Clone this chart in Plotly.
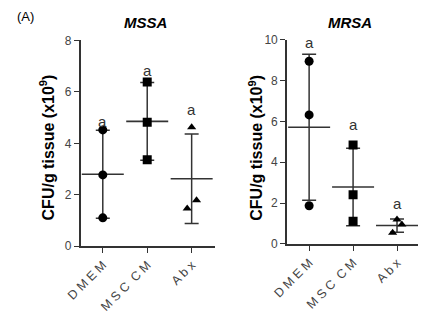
import numpy as np
import plotly.graph_objects as go

categories = ["DMEM", "MSC CM", "Abx"]
tick_text = ["D M E M", "M S C  C M", "A b x"]

# MSSA values (x10^9 CFU/g tissue)
mssa_dmem = [4.52, 2.77, 1.10]
mssa_msc = [6.38, 4.82, 3.36]
mssa_abx = [4.62, 1.78, 1.46]

# MRSA values (x10^9 CFU/g tissue)
mrsa_dmem = [8.95, 6.32, 1.87]
mrsa_msc = [4.85, 2.41, 1.11]
mrsa_abx = [1.20, 0.95, 0.55]

sig_letters = ["a", "a", "a"]
mssa_letter_y = [4.86, 6.82, 5.33]
mrsa_letter_y = [9.88, 5.83, 2.0]

symbols = ["circle", "square", "triangle-up"]
jitter = [[0, 0, 0], [0, 0, 0], [0, 0.11, -0.1]]

AX = "#333333"
TK = "#444444"

fig = go.Figure()

panels = [
    ("x", "y", [mssa_dmem, mssa_msc, mssa_abx], mssa_letter_y),
    ("x2", "y2", [mrsa_dmem, mrsa_msc, mrsa_abx], mrsa_letter_y),
]

for xa, ya, groups, letter_y in panels:
    for i, vals in enumerate(groups):
        v = np.array(vals)
        m = v.mean()
        sd = v.std(ddof=1)
        # error bar + mean line
        fig.add_trace(go.Scatter(
            x=[i], y=[m], xaxis=xa, yaxis=ya, mode="markers",
            marker=dict(symbol="line-ew", size=30, color=AX,
                        line=dict(color=AX, width=1.6)),
            error_y=dict(type="data", array=[sd], visible=True,
                         color=AX, thickness=1.5, width=7),
            showlegend=False, hoverinfo="skip"))
        # individual points
        fig.add_trace(go.Scatter(
            x=[i + j for j in jitter[i]], y=vals, xaxis=xa, yaxis=ya,
            mode="markers",
            marker=dict(symbol=symbols[i], size=9 if i < 2 else 8, color="black"),
            showlegend=False))
        fig.add_annotation(x=i, y=letter_y[i], xref=xa, yref=ya,
                           text=sig_letters[i], showarrow=False,
                           font=dict(size=15, color="#333333", family="Arial"))

axis_common = dict(showline=True, linecolor=AX, linewidth=1.5, ticks="outside",
                   ticklen=5, tickwidth=1.3, tickcolor=AX, showgrid=False,
                   zeroline=False, tickfont=dict(family="Arial", size=12, color=TK))
xfont = dict(family="Arial", size=12.5, color=TK)

fig.update_layout(
    width=421, height=322, margin=dict(l=0, r=0, t=0, b=0),
    plot_bgcolor="white", paper_bgcolor="white",
    xaxis=dict(domain=[0.1615, 0.492], range=[-0.5, 2.52],
               tickvals=[0, 1, 2], ticktext=tick_text, tickangle=-45,
               anchor="y", **{**axis_common, "tickfont": xfont}),
    yaxis=dict(domain=[0.2236, 0.8913], range=[0, 8], tickvals=[0, 2, 4, 6, 8],
               anchor="x", **axis_common),
    xaxis2=dict(domain=[0.6698, 0.9929], range=[-0.505, 2.48],
                tickvals=[0, 1, 2], ticktext=tick_text, tickangle=-45,
                anchor="y2", **{**axis_common, "tickfont": xfont}),
    yaxis2=dict(domain=[0.2307, 0.8935], range=[0, 10], tickvals=[0, 2, 4, 6, 8, 10],
                anchor="x2", **axis_common),
)

ytitle = "<b>CFU/g tissue (x10<sup>9</sup>)</b>"
for xc, yc in [(33, 147), (249, 147)]:
    fig.add_annotation(x=xc / 421, y=1 - yc / 322, xref="paper", yref="paper",
                       text=ytitle, textangle=-90, showarrow=False,
                       font=dict(family="Arial", size=16, color="black"),
                       xanchor="center", yanchor="middle")

for txt, xc in [("MSSA", 135), ("MRSA", 347)]:
    fig.add_annotation(x=xc / 421, y=1 - 16 / 322, xref="paper", yref="paper",
                       text="<b><i>" + txt + "</i></b>", showarrow=False,
                       font=dict(family="Arial", size=15, color="black"),
                       xanchor="center", yanchor="middle")

fig.add_annotation(x=0, y=1 - 10 / 322, xref="paper", yref="paper", text="(A)",
                   showarrow=False, xanchor="left", yanchor="middle",
                   font=dict(family="Arial", size=13, color="black"))

fig.write_html("out.html")
